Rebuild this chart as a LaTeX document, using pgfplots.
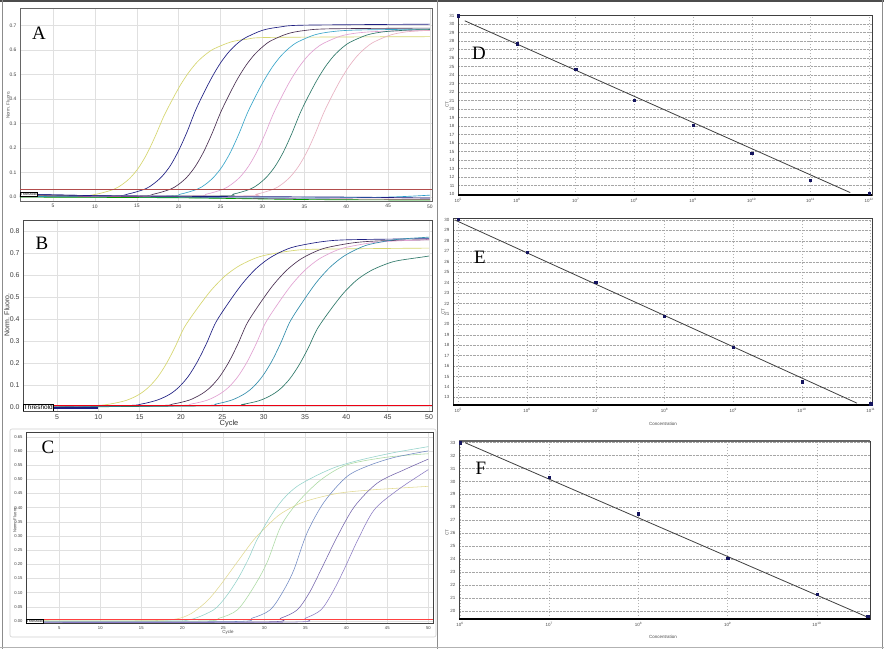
\documentclass[border=0pt]{standalone}
\usepackage{pgfplots}
\pgfplotsset{compat=1.18}
\usepackage{fontspec}
\setmainfont{Liberation Sans}
\newfontfamily\seriffont{Liberation Serif}

\definecolor{aYel}{HTML}{D6D66E}
\definecolor{aNavy}{HTML}{1E1E82}
\definecolor{aPlum}{HTML}{4A3052}
\definecolor{aTeal}{HTML}{3AA6CA}
\definecolor{aPink}{HTML}{E2A2D2}
\definecolor{aGreen}{HTML}{2E7868}
\definecolor{aLPink}{HTML}{E8B2C2}
\definecolor{cYel}{HTML}{E2DA92}
\definecolor{cTeal}{HTML}{92D2CA}
\definecolor{cGreen}{HTML}{AADAA2}
\definecolor{cBlue}{HTML}{7088C2}
\definecolor{cPurp}{HTML}{7262AA}
\definecolor{cPurp2}{HTML}{8A7AC2}
\definecolor{ptBlue}{HTML}{14145E}

\pgfplotsset{
  qp/.style={scale only axis, axis line style={draw=black!60, line width=0.6bp},
    major tick length=0pt, grid=major, major grid style={draw=black!12, line width=0.4bp},
    /pgf/number format/assume math mode=true,
    tick label style={text=black!75},
    every axis plot/.append style={line width=0.65bp, smooth, no markers}},
  std/.style={scale only axis, axis line style={draw=black!75, line width=0.6bp},
    major tick length=0pt, grid=major,
    x grid style={draw=black!30, dash pattern=on 1.5bp off 1.5bp, line width=0.4bp},
    y grid style={draw=black!35, dash pattern=on 0.6bp off 0.8bp, line width=0.4bp},
    /pgf/number format/assume math mode=true,
    tick label style={font=\fontsize{4.5}{5}\selectfont, text=black!70}, clip=false},
}

\begin{document}
\begin{tikzpicture}
\useasboundingbox (0bp,0bp) rectangle (884bp,-649bp);
\fill[white] (0bp,0bp) rectangle (884bp,-649bp);

% ---------------- Panel A ----------------
\begin{axis}[qp, at={(20bp,-8bp)}, anchor=north west, width=412bp, height=193bp,
  xmin=1.06, xmax=50.24, ymin=-0.016, ymax=0.772,
  xtick={5,10,15,20,25,30,35,40,45,50}, ytick={0,0.1,0.2,0.3,0.4,0.5,0.6,0.7},
  yticklabel style={/pgf/number format/fixed, /pgf/number format/precision=1, /pgf/number format/fixed zerofill},
  tick label style={font=\fontsize{5}{5}\selectfont}]
\addplot[color=aYel] coordinates {(1,0.008) (8.2,0.005) (10.2,0.012) (12.2,0.031) (13.2,0.050) (14.2,0.078) (15.2,0.119) (16.2,0.176) (17.2,0.248) (18.2,0.328) (19.2,0.395) (20.2,0.457) (21.2,0.509) (22.2,0.551) (23.2,0.582) (24.2,0.605) (26.2,0.633) (28.2,0.645) (31.2,0.652) (50,0.655)};
\addplot[color=aNavy] coordinates {(1,0.012) (12,0.005) (14,0.013) (16,0.033) (17,0.054) (18,0.084) (19,0.128) (20,0.190) (21,0.266) (22,0.353) (23,0.425) (24,0.491) (25,0.548) (26,0.593) (27,0.627) (28,0.651) (30,0.681) (32,0.694) (35,0.702) (50,0.706)};
\addplot[color=aPlum] coordinates {(1,0.006) (15,0.005) (17,0.012) (19,0.032) (20,0.052) (21,0.082) (22,0.126) (23,0.186) (24,0.261) (25,0.345) (26,0.416) (27,0.481) (28,0.536) (29,0.580) (30,0.613) (31,0.638) (33,0.667) (35,0.680) (38,0.687) (50,0.690)};
\addplot[color=aTeal] coordinates {(1,0.004) (18.2,0.005) (20.2,0.012) (22.2,0.032) (23.2,0.052) (24.2,0.082) (25.2,0.125) (26.2,0.184) (27.2,0.259) (28.2,0.343) (29.2,0.413) (30.2,0.477) (31.2,0.532) (32.2,0.576) (33.2,0.609) (34.2,0.633) (36.2,0.662) (38.2,0.675) (41.2,0.682) (50,0.686)};
\addplot[color=aPink] coordinates {(1,0.004) (21.3,0.005) (23.3,0.012) (25.3,0.032) (26.3,0.052) (27.3,0.081) (28.3,0.124) (29.3,0.183) (30.3,0.257) (31.3,0.340) (32.3,0.410) (33.3,0.474) (34.3,0.528) (35.3,0.572) (36.3,0.605) (37.3,0.628) (39.3,0.657) (41.3,0.670) (44.3,0.677) (50,0.680)};
\addplot[color=aGreen] coordinates {(1,0.003) (24.5,0.005) (26.5,0.012) (28.5,0.032) (29.5,0.052) (30.5,0.082) (31.5,0.125) (32.5,0.184) (33.5,0.259) (34.5,0.343) (35.5,0.413) (36.5,0.477) (37.5,0.532) (38.5,0.576) (39.5,0.609) (40.5,0.633) (42.5,0.662) (44.5,0.675) (47.5,0.682) (50,0.684)};
\addplot[color=aLPink] coordinates {(1,0.003) (27.3,0.005) (29.3,0.012) (31.3,0.032) (32.3,0.052) (33.3,0.082) (34.3,0.125) (35.3,0.184) (36.3,0.259) (37.3,0.343) (38.3,0.413) (39.3,0.477) (40.3,0.532) (41.3,0.576) (42.3,0.609) (43.3,0.633) (45.3,0.662) (47.3,0.675) (50,0.681)};
\addplot[color=magenta!80!black] coordinates {(1,0.004) (10,0.002) (20,0.0) (30,-0.006) (40,-0.008) (50,-0.009)};
\addplot[color=cyan!80!black] coordinates {(1,0.003) (20,-0.002) (35,-0.004) (45,0.0) (50,0.008)};
\addplot[color=green!60!black] coordinates {(1,0.0) (20,-0.003) (35,-0.010) (50,-0.012)};
\addplot[color=aNavy] coordinates {(1,0.012) (10,0.006) (20,0.003) (40,0.0) (50,-0.004)};
\addplot[color=red!40!gray, line width=0.8bp, sharp plot] coordinates {(1.06,0.03) (50.24,0.03)};
\node[draw=black, fill=white, anchor=west, inner sep=0.5bp, font=\fontsize{3.6}{4}\selectfont] at (axis cs:1.06,0.012) {Threshold};
\end{axis}

% ---------------- Panel B ----------------
\begin{axis}[qp, at={(23bp,-220bp)}, anchor=north west, width=409bp, height=191bp,
  xmin=0.89, xmax=50.36, ymin=-0.0196, ymax=0.85,
  xtick={5,10,15,20,25,30,35,40,45,50}, ytick={0,0.1,0.2,0.3,0.4,0.5,0.6,0.7,0.8},
  yticklabel style={/pgf/number format/fixed, /pgf/number format/precision=1, /pgf/number format/fixed zerofill},
  tick label style={font=\fontsize{7}{7}\selectfont}, axis line style={draw=black!70}]
\addplot[color=aYel] coordinates {(1,-0.004) (9.4,0.005) (11.4,0.012) (13.4,0.029) (14.9,0.055) (16.0,0.086) (17.1,0.131) (18.2,0.194) (19.3,0.273) (20.4,0.361) (22.0,0.449) (23.6,0.528) (25.2,0.591) (26.8,0.636) (28.4,0.667) (30.0,0.688) (33.2,0.709) (36.4,0.717) (50,0.722)};
\addplot[color=aNavy] coordinates {(1,-0.004) (13.2,0.005) (15.2,0.012) (17.2,0.031) (18.7,0.058) (19.8,0.091) (20.9,0.139) (22.0,0.206) (23.1,0.289) (24.2,0.383) (25.8,0.476) (27.4,0.559) (29.0,0.626) (30.6,0.674) (32.2,0.707) (33.8,0.729) (37.0,0.751) (40.2,0.760) (50,0.765)};
\addplot[color=aPlum] coordinates {(1,-0.004) (17,0.005) (19,0.012) (21,0.030) (22.5,0.058) (23.6,0.090) (24.7,0.138) (25.8,0.204) (26.9,0.287) (28.0,0.380) (29.6,0.473) (31.2,0.556) (32.8,0.622) (34.4,0.670) (36.0,0.702) (37.6,0.724) (40.8,0.746) (44.0,0.755) (50,0.760)};
\addplot[color=aPink] coordinates {(1,-0.003) (19.2,0.005) (21.2,0.012) (23.2,0.030) (24.7,0.058) (25.8,0.090) (26.9,0.138) (28.0,0.204) (29.1,0.287) (30.2,0.380) (31.8,0.473) (33.4,0.556) (35.0,0.622) (36.6,0.670) (38.2,0.702) (39.8,0.724) (43.0,0.746) (46.2,0.755) (50,0.760)};
\addplot[color=aTeal!85!black] coordinates {(1,-0.003) (22.2,0.005) (24.2,0.012) (26.2,0.031) (27.7,0.059) (28.8,0.092) (29.9,0.141) (31.0,0.208) (32.1,0.293) (33.2,0.388) (34.8,0.482) (36.4,0.567) (38.0,0.634) (39.6,0.683) (41.2,0.716) (42.8,0.739) (46.0,0.761) (49.2,0.770) (50,0.772)};
\addplot[color=aGreen] coordinates {(1,-0.003) (25.5,0.005) (27.5,0.011) (29.5,0.028) (31.0,0.054) (32.1,0.084) (33.2,0.129) (34.3,0.191) (35.4,0.268) (36.5,0.355) (38.1,0.442) (39.7,0.519) (41.3,0.578) (42.9,0.618) (44.5,0.645) (46.1,0.664) (49.3,0.682) (50,0.686)};
\addplot[color=aNavy, line width=1.6bp, sharp plot] coordinates {(4,-0.005) (10,-0.005)};
\addplot[color=red!70!purple, line width=0.7bp, sharp plot] coordinates {(0.89,0.005) (50.36,0.005)};
\node[draw=black, fill=white, anchor=south west, inner sep=0.8bp, font=\fontsize{6.5}{7}\selectfont] at (axis cs:0.89,-0.0196) {Threshold};
\end{axis}
\node[font=\fontsize{7.5}{8}\selectfont, text=black!80] at (229bp,-424bp) {Cycle};
\node[rotate=90, font=\fontsize{7}{7}\selectfont, text=black!80] at (7bp,-315bp) {Norm. Fluoro.};
\node[rotate=90, font=\fontsize{4.5}{5}\selectfont, text=black!70] at (8bp,-105bp) {Norm. Fluoro.};

% ---------------- Panel C ----------------
\draw[black!18, line width=0.6bp, rounded corners=2bp] (10bp,-429bp) rectangle (436bp,-637bp);
\begin{axis}[qp, at={(26bp,-432bp)}, anchor=north west, width=407bp, height=191bp,
  xmin=0.94, xmax=50.57, ymin=-0.007, ymax=0.6666,
  xtick={5,10,15,20,25,30,35,40,45,50},
  ytick={0,0.05,0.1,0.15,0.2,0.25,0.3,0.35,0.4,0.45,0.5,0.55,0.6,0.65},
  yticklabel style={/pgf/number format/fixed, /pgf/number format/precision=2, /pgf/number format/fixed zerofill},
  tick label style={font=\fontsize{4.2}{4.5}\selectfont}, axis line style={draw=black!75, line width=0.8bp},
  every axis plot/.append style={line width=0.55bp}]
\addplot[color=cYel] coordinates {(1,0.001) (15,0.001) (19,0.006) (21,0.025) (23,0.070) (24.6,0.125) (26.5,0.200) (28.7,0.286) (30.5,0.340) (32.1,0.380) (34.8,0.420) (38.9,0.450) (42.9,0.462) (46,0.468) (50,0.475)};
\addplot[color=cTeal] coordinates {(1,0.0) (18,0.0) (21,0.005) (23.8,0.039) (25.3,0.085) (26.7,0.145) (28,0.215) (29.1,0.286) (30.7,0.367) (32.3,0.430) (34,0.475) (36.5,0.515) (38.9,0.545) (42,0.570) (46,0.595) (50,0.615)};
\addplot[color=cGreen] coordinates {(1,0.0) (22,0.0) (24.5,0.010) (26.7,0.039) (28.5,0.110) (30.3,0.204) (32,0.333) (34,0.416) (36.9,0.498) (40.1,0.551) (45,0.578) (50,0.590)};
\addplot[color=cBlue] coordinates {(1,-0.003) (26,-0.002) (28.5,0.010) (30.7,0.039) (32.2,0.100) (33.6,0.180) (35.2,0.310) (37.3,0.420) (40.1,0.510) (42.9,0.550) (46,0.578) (50,0.600)};
\addplot[color=cPurp] coordinates {(1,-0.004) (30,-0.003) (32,0.010) (34,0.039) (35.5,0.100) (36.9,0.180) (38.9,0.298) (41,0.404) (43.8,0.487) (47.1,0.534) (50,0.571)};
\addplot[color=cPurp2] coordinates {(1,-0.005) (33,-0.004) (35,0.010) (36.9,0.039) (38.3,0.100) (39.7,0.180) (41.4,0.286) (43.4,0.392) (46.3,0.463) (50,0.534)};
\addplot[color=red!75!white, line width=0.8bp, sharp plot] coordinates {(0.94,0.007) (50.57,0.007)};
\node[draw=black, fill=white, anchor=south west, inner sep=0.5bp, font=\fontsize{3.6}{4}\selectfont] at (axis cs:0.94,-0.007) {Threshold};
\end{axis}
\node[font=\fontsize{4.5}{5}\selectfont, text=black!70] at (228bp,-632bp) {Cycle};
\node[rotate=90, font=\fontsize{4.2}{5}\selectfont, text=black!75] at (15bp,-520bp) {Norm. Fluoro.};

% ---------------- Panel D (x = log10 concentration) ----------------
\begin{axis}[std, at={(458bp,-15bp)}, anchor=north west, width=414bp, height=180bp,
  xmin=4.995, xmax=12.05, ymin=9.88, ymax=31.08,
  xtick={5,6,7,8,9,10,11,12},
  xticklabels={10\textsuperscript{5},10\textsuperscript{6},10\textsuperscript{7},10\textsuperscript{8},10\textsuperscript{9},10\textsuperscript{10},10\textsuperscript{11},10\textsuperscript{12}},
  ytick={10,11,...,31}]
\addplot[black!75, line width=0.8bp] coordinates {(5.11,30.4) (11.68,10.16)};
\addplot[only marks, mark=square*, mark size=1.1bp, color=ptBlue] coordinates {(5,31.0) (6,27.7) (7,24.7) (8,21.0) (9,18.1) (10,14.8) (11,11.65) (12,10.1)};
\draw[black, line width=1.2bp] (rel axis cs:0,0) -- (rel axis cs:1,0);
\end{axis}
\node[rotate=90, font=\fontsize{4.5}{5}\selectfont, text=black!70] at (447bp,-105bp) {CT};

% ---------------- Panel E ----------------
\begin{axis}[std, at={(453bp,-218bp)}, anchor=north west, width=419bp, height=187bp,
  xmin=4.923, xmax=11.02, ymin=12.27, ymax=30.19,
  xtick={5,6,7,8,9,10,11},
  xticklabels={10\textsuperscript{5},10\textsuperscript{6},10\textsuperscript{7},10\textsuperscript{8},10\textsuperscript{9},10\textsuperscript{10},10\textsuperscript{11}},
  ytick={13,14,...,30}]
\addplot[black!75, line width=0.8bp] coordinates {(4.95,30.0) (10.8,12.45)};
\addplot[only marks, mark=square*, mark size=1.1bp, color=ptBlue] coordinates {(5,30.1) (6,26.95) (7,24.0) (8,20.8) (9,17.8) (10,14.5) (11,12.4)};
\draw[black, line width=1.6bp] (rel axis cs:0,0) -- (rel axis cs:1,0);
\end{axis}
\node[rotate=90, font=\fontsize{4.5}{5}\selectfont, text=black!70] at (443bp,-312bp) {CT};
\node[font=\fontsize{4.5}{5}\selectfont, text=black!70] at (663bp,-424bp) {Concentration};

% ---------------- Panel F ----------------
\begin{axis}[std, at={(459bp,-441bp)}, anchor=north west, width=411bp, height=178bp,
  xmin=5.989, xmax=10.596, ymin=19.36, ymax=33.13,
  xtick={6,7,8,9,10},
  xticklabels={10\textsuperscript{6},10\textsuperscript{7},10\textsuperscript{8},10\textsuperscript{9},10\textsuperscript{10}},
  ytick={20,21,...,33}]
\addplot[black!75, line width=0.8bp] coordinates {(6.056,33.0) (10.57,19.5)};
\addplot[only marks, mark=square*, mark size=1.1bp, color=ptBlue] coordinates {(6,33.0) (7,30.3) (8,27.5) (9,24.05) (10,21.3) (10.57,19.55)};
\draw[black, line width=1.4bp] (rel axis cs:0,0) -- (rel axis cs:1,0);
\draw[black!60, line width=1.2bp] (rel axis cs:0,1) -- (rel axis cs:1,1);
\end{axis}
\node[rotate=90, font=\fontsize{4.5}{5}\selectfont, text=black!70] at (447bp,-533bp) {CT};
\node[font=\fontsize{4.5}{5}\selectfont, text=black!70] at (663bp,-637bp) {Concentration};

% ---------------- Panel letters ----------------
\node[font=\seriffont\fontsize{19}{19}\selectfont] at (39bp,-33bp) {A};
\node[font=\seriffont\fontsize{19}{19}\selectfont] at (42bp,-243bp) {B};
\node[font=\seriffont\fontsize{19}{19}\selectfont] at (48bp,-447bp) {C};
\node[font=\seriffont\fontsize{19}{19}\selectfont] at (479bp,-53bp) {D};
\node[font=\seriffont\fontsize{19}{19}\selectfont] at (480bp,-257bp) {E};
\node[font=\seriffont\fontsize{19}{19}\selectfont] at (481bp,-468bp) {F};

% ---------------- Frame lines ----------------
\draw[black!70, line width=2.5bp] (0bp,-1.2bp) -- (884bp,-1.2bp);
\draw[black!45, line width=1bp] (2.5bp,0bp) -- (2.5bp,-649bp);
\draw[black!45, line width=1bp] (437bp,0bp) -- (437bp,-649bp);
\draw[black!45, line width=1bp] (882.5bp,0bp) -- (882.5bp,-649bp);
\draw[black!30, line width=1.2bp] (0bp,-647.8bp) -- (884bp,-647.8bp);
\end{tikzpicture}
\end{document}
